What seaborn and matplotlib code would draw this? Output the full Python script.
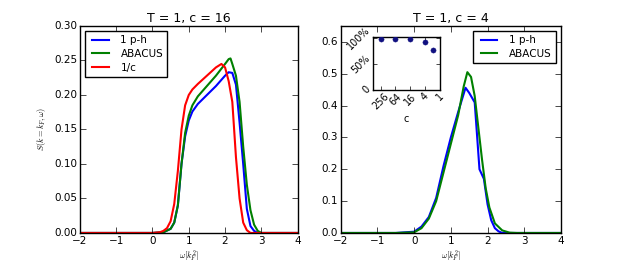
import numpy as np
import pandas as pd
import seaborn as sns
import matplotlib
matplotlib.use("Agg")
import matplotlib.pyplot as plt
from matplotlib.ticker import FixedLocator, FixedFormatter

# DATA: LEFT PANEL (T = 1, c = 16)
x_ph16 = [-2, 0.0, 0.3, 0.5, 0.6, 0.7, 0.8, 0.9, 1.0, 1.1, 1.25, 1.5, 1.75, 2.0, 2.1, 2.2,
          2.3, 2.4, 2.5, 2.6, 2.7, 2.8, 2.9, 4]
y_ph16 = [0, 0, 0.001, 0.006, 0.015, 0.04, 0.1, 0.14, 0.163, 0.176, 0.187, 0.2, 0.213, 0.228,
          0.233, 0.232, 0.215, 0.16, 0.1, 0.035, 0.01, 0.003, 0, 0]
x_ab16 = [-2, 0.0, 0.3, 0.5, 0.6, 0.7, 0.8, 0.9, 1.0, 1.1, 1.25, 1.5, 1.75, 2.0, 2.1, 2.15,
          2.2, 2.3, 2.4, 2.5, 2.6, 2.7, 2.8, 2.9, 3.0, 4]
y_ab16 = [0, 0, 0.001, 0.006, 0.015, 0.04, 0.1, 0.145, 0.17, 0.185, 0.198, 0.213, 0.228, 0.245,
          0.252, 0.253, 0.245, 0.228, 0.19, 0.125, 0.07, 0.033, 0.012, 0.003, 0, 0]
x_1c16 = [-2, 0.0, 0.2, 0.3, 0.4, 0.5, 0.6, 0.7, 0.8, 0.9, 1.0, 1.1, 1.25, 1.5, 1.75, 1.9, 2.0,
          2.1, 2.2, 2.3, 2.4, 2.5, 2.6, 2.7, 4]
y_1c16 = [0, 0, 0.001, 0.003, 0.007, 0.017, 0.042, 0.09, 0.15, 0.185, 0.2, 0.208, 0.216, 0.228,
          0.24, 0.245, 0.24, 0.22, 0.19, 0.11, 0.05, 0.015, 0.004, 0, 0]

# DATA: RIGHT PANEL (T = 1, c = 4)
x_ph4 = [-2, -0.5, 0.0, 0.2, 0.4, 0.6, 0.8, 1.0, 1.2, 1.4, 1.5, 1.65, 1.78, 1.9, 2.0, 2.1,
         2.2, 2.3, 2.4, 4]
y_ph4 = [0, 0, 0.004, 0.02, 0.05, 0.11, 0.21, 0.3, 0.38, 0.456, 0.44, 0.41, 0.2, 0.17, 0.09,
         0.04, 0.015, 0.005, 0, 0]
x_ab4 = [-2, -0.5, 0.0, 0.2, 0.4, 0.6, 0.8, 1.0, 1.2, 1.35, 1.45, 1.55, 1.65, 1.75, 1.85,
         1.95, 2.05, 2.2, 2.4, 2.6, 2.8, 4]
y_ab4 = [0, 0, 0.002, 0.015, 0.045, 0.1, 0.19, 0.28, 0.37, 0.46, 0.505, 0.49, 0.43, 0.33, 0.23,
         0.14, 0.08, 0.03, 0.008, 0.001, 0, 0]

# DATA: INSET (fraction vs c)
c_vals = [256, 64, 16, 4, 2]
frac = [0.99, 0.99, 0.985, 0.94, 0.78]

# STYLE
plt.style.use('classic')
plt.rcParams['figure.facecolor'] = 'white'
plt.rcParams['savefig.facecolor'] = 'white'
plt.rcParams['font.family'] = ['DejaVu Sans']

fig = plt.figure(figsize=(6.24, 2.6), dpi=100)
ax1 = fig.add_axes([0.128, 0.104, 0.349, 0.796])
ax2 = fig.add_axes([0.546, 0.104, 0.353, 0.796])
axin = fig.add_axes([0.598, 0.654, 0.107, 0.204])

# LEFT PANEL
sns.lineplot(x=x_ph16, y=y_ph16, color='b', lw=1.5, label='1 p-h', ax=ax1)
sns.lineplot(x=x_ab16, y=y_ab16, color='g', lw=1.5, label='ABACUS', ax=ax1)
sns.lineplot(x=x_1c16, y=y_1c16, color='r', lw=1.5, label='1/c', ax=ax1)
ax1.set_xlim(-2, 4)
ax1.set_ylim(0, 0.30)
ax1.set_yticks([0, 0.05, 0.10, 0.15, 0.20, 0.25, 0.30])
ax1.set_title('T = 1, c = 16', fontsize=9, pad=3)
ax1.set_xlabel(r'$\omega[k_F^2]$', fontsize=6, labelpad=2)
ax1.set_ylabel(r'$S(k=k_F,\omega)$', fontsize=6, labelpad=4)
ax1.tick_params(labelsize=7.5, pad=2)
ax1.legend(loc='upper left', fontsize=7.5, handlelength=2.2, borderpad=0.4, labelspacing=0.35)

# RIGHT PANEL
sns.lineplot(x=x_ph4, y=y_ph4, color='b', lw=1.5, label='1 p-h', ax=ax2)
sns.lineplot(x=x_ab4, y=y_ab4, color='g', lw=1.5, label='ABACUS', ax=ax2)
ax2.set_xlim(-2, 4)
ax2.set_ylim(0, 0.65)
ax2.set_yticks([0, 0.1, 0.2, 0.3, 0.4, 0.5, 0.6])
ax2.set_title('T = 1, c = 4', fontsize=9, pad=3)
ax2.set_xlabel(r'$\omega[k_F^2]$', fontsize=6, labelpad=2)
ax2.tick_params(labelsize=7.5, pad=2)
ax2.legend(loc='upper right', fontsize=7.5, handlelength=2.2, borderpad=0.4, labelspacing=0.35)

# INSET
sns.scatterplot(x=c_vals, y=frac, color='#101080', s=14, edgecolor='#101080', ax=axin, zorder=3)
axin.set_xscale('log', base=2)
axin.set_xlim(512, 1)
axin.set_ylim(0, 1.03)
axin.xaxis.set_major_locator(FixedLocator([256, 64, 16, 4, 1]))
axin.xaxis.set_major_formatter(FixedFormatter(['256', '64', '16', '4', '1']))
axin.xaxis.set_minor_locator(FixedLocator([]))
axin.set_yticks([0, 0.5, 1.0])
axin.set_yticklabels(['0', '50%', '100%'])
axin.tick_params(labelsize=7, pad=1, length=3)
for lab in axin.get_xticklabels() + axin.get_yticklabels():
    lab.set_rotation(45)
axin.set_xlabel('c', fontsize=7, labelpad=2)

fig.savefig('out.png', dpi=100)
